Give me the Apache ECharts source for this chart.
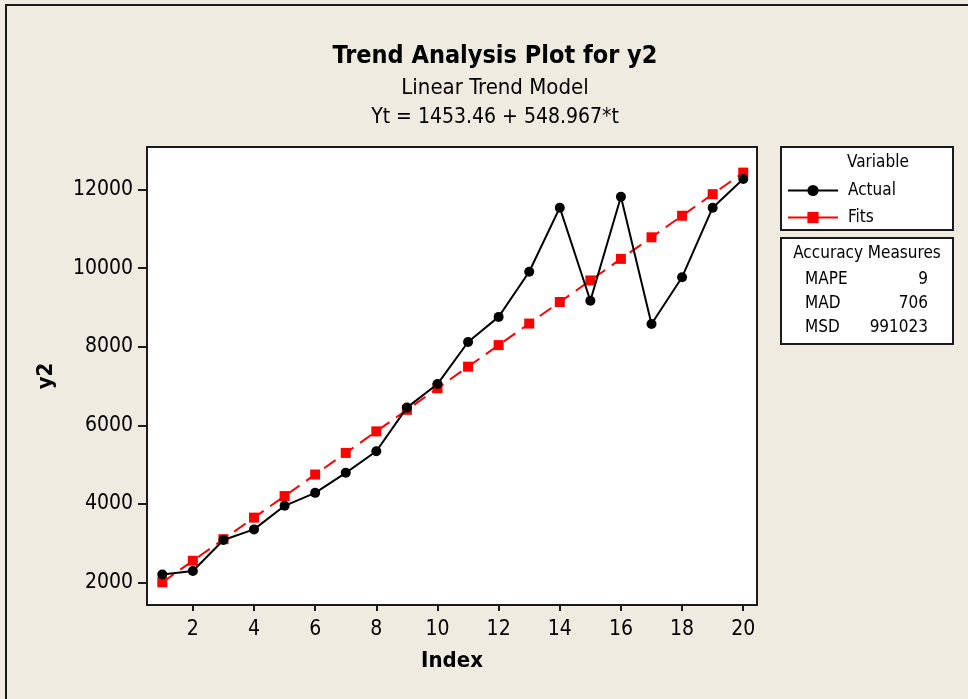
<!DOCTYPE html>
<html>
<head>
<meta charset="utf-8">
<script src="https://cdn.jsdelivr.net/npm/echarts@6/dist/echarts.min.js"></script>
<style>
html,body{margin:0;padding:0;background:#EFEBE1;}
#chart{width:968px;height:699px;}
</style>
</head>
<body>
<div id="chart"></div>
<script>
// ---- data ----
const titleText = 'Trend Analysis Plot for y2';
const subtitleText = 'Linear Trend Model';
const equationText = 'Yt = 1453.46 + 548.967*t';
const xAxisName = 'Index';
const yAxisName = 'y2';
const index = [1,2,3,4,5,6,7,8,9,10,11,12,13,14,15,16,17,18,19,20];
const actual = [2200, 2290, 3080, 3350, 3950, 4280, 4790, 5340, 6450, 7050, 8120, 8760, 9910, 11540, 9170, 11820, 8580, 9770, 11540, 12270];
const fits = [2002.43, 2551.39, 3100.36, 3649.33, 4198.30, 4747.26, 5296.23, 5845.20, 6394.16, 6943.13, 7492.10, 8041.06, 8590.03, 9139.00, 9687.97, 10236.93, 10785.90, 11334.87, 11883.83, 12432.80];
const xTicks = [2,4,6,8,10,12,14,16,18,20];
const yTicks = [2000,4000,6000,8000,10000,12000];
const legendTitle = 'Variable';
const seriesNames = ['Actual', 'Fits'];
const accuracyTitle = 'Accuracy Measures';
const accuracyNames = ['MAPE', 'MAD', 'MSD'];
const accuracyValues = ['9', '706', '991023'];

// ---- chart ----
const FONT = '"DejaVu Sans Condensed", "DejaVu Sans", sans-serif';
const chart = echarts.init(document.getElementById('chart'), null, {renderer: 'canvas'});

const graphics = [
  {type: 'line', shape: {x1: 6, y1: 4, x2: 6, y2: 699}, style: {stroke: '#1a1a1a', lineWidth: 2}, silent: true},
  {type: 'line', shape: {x1: 5, y1: 5, x2: 968, y2: 5}, style: {stroke: '#1a1a1a', lineWidth: 2}, silent: true},
  {type: 'rect', shape: {x: 781, y: 147, width: 172, height: 83}, style: {fill: '#ffffff', stroke: '#1a1a1a', lineWidth: 2}, z: -1, silent: true},
  {type: 'rect', shape: {x: 781, y: 238, width: 172, height: 106}, style: {fill: '#ffffff', stroke: '#1a1a1a', lineWidth: 2}, z: -1, silent: true},
  {type: 'text', x: 847, y: 163, style: {text: legendTitle, font: '17px ' + FONT, fill: '#000', textAlign: 'left', textVerticalAlign: 'middle'}, silent: true},
  {type: 'text', x: 867, y: 254, style: {text: accuracyTitle, font: '17px ' + FONT, fill: '#000', textAlign: 'center', textVerticalAlign: 'middle'}, silent: true}
];
const accY = [280, 304, 328];
accuracyNames.forEach((n, i) => {
  graphics.push({type: 'text', x: 805, y: accY[i], style: {text: n, font: '17px ' + FONT, fill: '#000', textAlign: 'left', textVerticalAlign: 'middle'}, silent: true});
  graphics.push({type: 'text', x: 928, y: accY[i], style: {text: accuracyValues[i], font: '17px ' + FONT, fill: '#000', textAlign: 'right', textVerticalAlign: 'middle'}, silent: true});
});

const option = {
  backgroundColor: '#EFEBE1',
  animation: false,
  title: [
    {text: titleText, left: 490, top: 39, textAlign: 'center', textStyle: {fontFamily: FONT, fontSize: 25, fontWeight: 'bold', color: '#000'}},
    {text: subtitleText, left: 490, top: 72, textAlign: 'center', textStyle: {fontFamily: FONT, fontSize: 22, fontWeight: 'normal', color: '#000'}},
    {text: equationText, left: 490, top: 102, textAlign: 'center', textStyle: {fontFamily: FONT, fontSize: 21, fontWeight: 'normal', color: '#000'}}
  ],
  grid: {left: 147, top: 147, right: 211, bottom: 94, show: true, backgroundColor: '#ffffff', borderColor: '#1a1a1a', borderWidth: 2, containLabel: false, outerBoundsMode: 'none'},
  legend: {
    show: true, orient: 'vertical', left: 782, top: 177, itemWidth: 50, itemHeight: 14, itemGap: 10,
    textStyle: {fontFamily: FONT, fontSize: 17, color: '#000', padding: [0, 0, 0, 5]},
    selectedMode: false,
    data: [
      {name: seriesNames[0]},
      {name: seriesNames[1], lineStyle: {type: 'solid', width: 2, color: '#ff0000'}}
    ]
  },
  xAxis: {
    type: 'value', min: 0.5, max: 20.45,
    name: xAxisName, nameLocation: 'middle', nameGap: 45,
    nameTextStyle: {fontFamily: FONT, fontSize: 22, fontWeight: 'bold', color: '#000'},
    axisLine: {show: false},
    axisTick: {show: true, inside: false, length: 6, customValues: xTicks, lineStyle: {color: '#1a1a1a', width: 2}},
    axisLabel: {show: true, margin: 14, customValues: xTicks, fontFamily: FONT, fontSize: 21, color: '#000'},
    splitLine: {show: false}
  },
  yAxis: {
    type: 'value', min: 1425, max: 13085,
    name: yAxisName, nameLocation: 'middle', nameGap: 90, nameRotate: 90,
    nameTextStyle: {fontFamily: FONT, fontSize: 22, fontWeight: 'bold', color: '#000'},
    axisLine: {show: false},
    axisTick: {show: true, inside: false, length: 9, customValues: yTicks, lineStyle: {color: '#1a1a1a', width: 2}},
    axisLabel: {show: true, margin: 14, customValues: yTicks, formatter: v => String(v), fontFamily: FONT, fontSize: 21, color: '#000'},
    splitLine: {show: false}
  },
  series: [
    {
      name: seriesNames[0], type: 'line',
      data: index.map((t, i) => [t, actual[i]]),
      symbol: 'circle', symbolSize: 10,
      itemStyle: {color: '#000000'},
      lineStyle: {color: '#000000', width: 2, type: 'solid'},
      z: 3
    },
    {
      name: seriesNames[1], type: 'line',
      data: index.map((t, i) => [t, fits[i]]),
      symbol: 'rect', symbolSize: 10,
      itemStyle: {color: '#ff0000'},
      lineStyle: {color: '#ff0000', width: 2, type: [14, 8]},
      z: 2
    }
  ],
  graphic: graphics
};
chart.setOption(option);
</script>
</body>
</html>
